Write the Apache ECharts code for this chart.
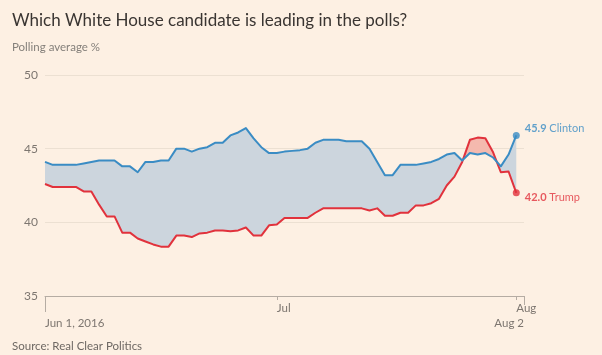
<!DOCTYPE html>
<html><head><meta charset="utf-8">
<script src="https://cdn.jsdelivr.net/npm/echarts@6/dist/echarts.min.js"></script>
<style>html,body{margin:0;padding:0;background:#fdf0e3;}#c{width:602px;height:355px;}</style>
</head><body><div id="c"></div>
<script>
// ---- data ----
const startDate = '2016-06-01';
const endDate = '2016-08-02';
const clinton = [44.1,43.9,43.9,43.9,43.9,44.0,44.1,44.2,44.2,44.2,43.8,43.8,43.4,44.1,44.1,44.2,44.2,45.0,45.0,44.8,45.0,45.1,45.4,45.4,45.9,46.1,46.4,45.7,45.1,44.7,44.7,44.8,44.85,44.9,45.0,45.4,45.6,45.6,45.6,45.5,45.5,45.5,45.0,44.1,43.2,43.2,43.9,43.9,43.9,44.0,44.1,44.3,44.6,44.7,44.2,44.7,44.6,44.7,44.4,43.8,44.6,45.9];
const trump = [42.6,42.4,42.4,42.4,42.4,42.1,42.1,41.2,40.4,40.4,39.3,39.3,38.9,38.7,38.5,38.35,38.35,39.1,39.1,39.0,39.25,39.3,39.45,39.45,39.4,39.45,39.65,39.1,39.1,39.8,39.85,40.3,40.3,40.3,40.3,40.65,40.95,40.95,40.95,40.95,40.95,40.95,40.8,40.95,40.45,40.45,40.65,40.65,41.15,41.15,41.3,41.6,42.5,43.1,44.1,45.6,45.75,45.7,44.75,43.4,43.45,42.0];
const yTicks = [35, 40, 45, 50];
const monthTicks = ['2016-07-01', '2016-08-01'];
const monthLabels = ['Jul', 'Aug'];
const startLabel = 'Jun 1, 2016';
const endLabel = 'Aug 2';
const seriesNames = ['Clinton', 'Trump'];
const titleText = 'Which White House candidate is leading in the polls?';
const subtitleText = 'Polling average %';
const sourceText = 'Source: Real Clear Politics';

// ---- helpers ----
const DAY = 86400000;
function toMs(s){ const p = s.split('-').map(Number); return Date.UTC(p[0], p[1]-1, p[2]); }
const t0 = toMs(startDate);
const times = clinton.map((_, i) => t0 + i * DAY);
const cData = times.map((t, i) => [t, clinton[i]]);
const tData = times.map((t, i) => [t, trump[i]]);
const last = times.length - 1;
const monthMs = monthTicks.map(toMs);

const BLUE = '#3a8cc4', RED = '#e1323c';
const BLUE_FILL = '#ccd5dd', RED_FILL = '#f4b9ae';
const FONT = 'Lato';
const AX = '#b5aca3', TXT = '#7d7670';

function fillRender(params, api) {
  if (params.dataIndex !== 0) return;
  const runs = [];
  let cur = null;
  const sgn = d => d >= 0 ? 1 : -1;
  for (let i = 0; i < times.length; i++) {
    const d = clinton[i] - trump[i];
    if (!cur) { cur = { s: sgn(d), top: [[times[i], clinton[i]]], bot: [[times[i], trump[i]]] }; continue; }
    if (sgn(d) !== cur.s && d !== 0) {
      const dp = clinton[i-1] - trump[i-1];
      const f = dp / (dp - d);
      const x = times[i-1] + f * (times[i] - times[i-1]);
      const y = clinton[i-1] + f * (clinton[i] - clinton[i-1]);
      cur.top.push([x, y]); cur.bot.push([x, y]);
      runs.push(cur);
      cur = { s: sgn(d), top: [[x, y]], bot: [[x, y]] };
    }
    cur.top.push([times[i], clinton[i]]); cur.bot.push([times[i], trump[i]]);
  }
  runs.push(cur);
  const children = runs.map(r => ({
    type: 'polygon',
    shape: { points: r.top.concat(r.bot.slice().reverse()).map(p => api.coord(p)) },
    style: { fill: r.s > 0 ? BLUE_FILL : RED_FILL, stroke: null }
  }));
  return { type: 'group', children };
}

const chart = echarts.init(document.getElementById('c'));
const xBase = { type: 'value', position: 'bottom', offset: 0, min: toMs(startDate), max: toMs(endDate), splitLine: { show: false } };
chart.setOption({
  animation: false,
  backgroundColor: '#fdf0e3',
  textStyle: { fontFamily: FONT },
  title: [
    { text: titleText, left: 12, top: 12, padding: 0, textStyle: { fontFamily: FONT, fontSize: 17, fontWeight: 'normal', color: '#3a3532' } },
    { text: subtitleText, left: 12, top: 41, padding: 0, textStyle: { fontFamily: FONT, fontSize: 11.5, fontWeight: 'normal', color: '#85807b' } },
    { text: sourceText, left: 12, top: 340, padding: 0, textStyle: { fontFamily: FONT, fontSize: 11.5, fontWeight: 'normal', color: '#6e6863' } }
  ],
  grid: { left: 45, right: 78, top: 75, bottom: 59, containLabel: false },
  yAxis: {
    type: 'value', min: yTicks[0], max: yTicks[yTicks.length-1], interval: 5,
    axisLine: { show: false }, axisTick: { show: false },
    axisLabel: { color: TXT, fontSize: 12, margin: 7, align: 'right' },
    splitLine: { lineStyle: { color: '#ece0d2', width: 1 } }
  },
  xAxis: [
    Object.assign({}, xBase, {
      axisLine: { lineStyle: { color: AX, width: 1 } },
      axisTick: { show: true, customValues: monthMs, length: 4, lineStyle: { color: AX } },
      axisLabel: { customValues: monthMs, formatter: v => monthLabels[monthMs.indexOf(v)] || '', align: 'left', margin: 6, color: TXT, fontSize: 11.5 }
    }),
    Object.assign({}, xBase, {
      axisLine: { show: false },
      axisTick: { show: true, customValues: [toMs(startDate)], length: 16, lineStyle: { color: AX } },
      axisLabel: { customValues: [toMs(startDate)], formatter: () => startLabel, align: 'left', margin: 21, color: TXT, fontSize: 11.5 }
    }),
    Object.assign({}, xBase, {
      axisLine: { show: false },
      axisTick: { show: true, customValues: [toMs(endDate)], length: 9, lineStyle: { color: AX } },
      axisLabel: { customValues: [toMs(endDate)], formatter: () => endLabel, align: 'right', margin: 21, color: TXT, fontSize: 11.5 }
    })
  ],
  series: [
    { type: 'custom', renderItem: fillRender, data: [0], xAxisIndex: 0, z: 1, silent: true },
    { type: 'line', name: seriesNames[0], data: cData, showSymbol: false, lineStyle: { color: BLUE, width: 2, join: 'round' }, itemStyle: { color: BLUE }, z: 3 },
    { type: 'line', name: seriesNames[1], data: tData, showSymbol: false, lineStyle: { color: RED, width: 2, join: 'round' }, itemStyle: { color: RED }, z: 2 },
    { type: 'scatter', data: [cData[last]], symbolSize: 7, itemStyle: { color: BLUE }, z: 4,
      label: { show: true, position: 'right', distance: 5, offset: [0, -7], formatter: p => '{b|' + p.value[1].toFixed(1) + '} ' + seriesNames[0],
        color: BLUE, fontSize: 11, rich: { b: { fontWeight: 'bold', fontSize: 11, color: BLUE } } } },
    { type: 'scatter', data: [tData[last]], symbolSize: 7, itemStyle: { color: RED }, z: 4,
      label: { show: true, position: 'right', distance: 5, offset: [0, 5], formatter: p => '{b|' + p.value[1].toFixed(1) + '} ' + seriesNames[1],
        color: RED, fontSize: 11, rich: { b: { fontWeight: 'bold', fontSize: 11, color: RED } } } }
  ]
});
</script></body></html>
